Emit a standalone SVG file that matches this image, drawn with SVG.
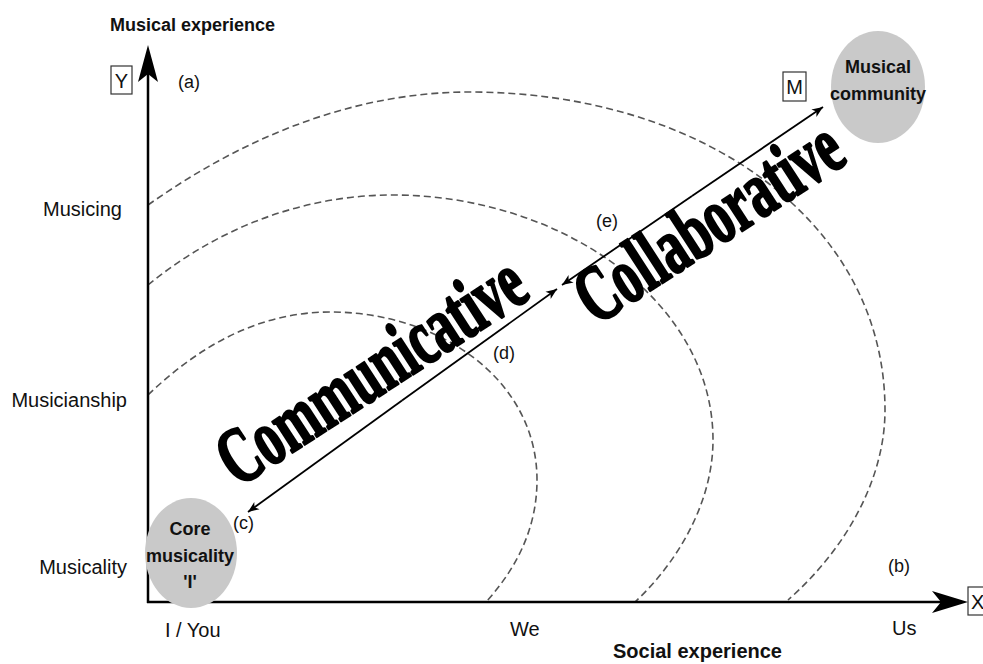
<svg xmlns="http://www.w3.org/2000/svg" width="983" height="664" viewBox="0 0 983 664">
  <defs>
    <marker id="tip" viewBox="-12 -6 13 12" refX="0" refY="0" markerWidth="13" markerHeight="12" markerUnits="userSpaceOnUse" orient="auto">
      <path d="M0,0 L-11,-4.5 L-8,0 L-11,4.5 Z" fill="#000"/>
    </marker>
    <style>
      .lbl { font-family: "Liberation Sans", Arial, sans-serif; font-size: 20px; fill: #111; }
      .tag { font-family: "Liberation Sans", Arial, sans-serif; font-size: 18px; fill: #111; }
      .bold { font-family: "Liberation Sans", Arial, sans-serif; font-size: 18px; font-weight: bold; fill: #111; }
      .big { font-family: "Liberation Serif", "Times New Roman", serif; font-size: 74px; font-weight: bold; fill: #000; stroke: #000; stroke-width: 2.4; stroke-linejoin: round; }
      .arc { fill: none; stroke: #555; stroke-width: 1.6; stroke-dasharray: 7 4; }
      .axis { stroke: #000; stroke-width: 2.5; fill: none; }
      .link { stroke: #000; stroke-width: 1.8; fill: none; marker-end: url(#tip); }
      .box { fill: #fff; stroke: #333; stroke-width: 1.2; }
      .blob { fill: #c9c9c9; }
    </style>
  </defs>
  <rect width="983" height="664" fill="#fff"/>

  <!-- concentric dashed zones -->
  <g id="zones">
    <path class="arc" d="M148,395 C200,345 260,312 330,312 C440,312 537,380 537,480 C537,530 515,570 486,602"/>
    <path class="arc" d="M148,285 C215,230 300,195 393,195 C560,195 713,300 713,440 C713,500 680,560 635,602"/>
    <path class="arc" d="M148,205 C240,140 350,92 470,92 C700,92 885,220 885,410 C885,480 845,550 788,600"/>
  </g>

  <!-- axes -->
  <g id="axes">
    <line class="axis" x1="148" y1="603" x2="148" y2="72"/>
    <path d="M148,45 L158,82 L148,74 L138,82 Z" fill="#000"/>
    <line class="axis" x1="147" y1="602" x2="945" y2="602"/>
    <path d="M968,602 L932,591 L941,602 L932,613 Z" fill="#000"/>
    <text class="bold" x="110" y="31">Musical experience</text>
    <text class="bold" x="613" y="658" style="font-size:20px">Social experience</text>
  </g>

  <g id="axis-y-tag">
    <rect class="box" x="111" y="66" width="21" height="28"/>
    <text class="lbl" x="121.5" y="88" text-anchor="middle">Y</text>
  </g>
  <g id="axis-x-tag">
    <rect class="box" x="968" y="587" width="22" height="28"/>
    <text class="lbl" x="971" y="609">X</text>
  </g>
  <g id="m-tag">
    <rect class="box" x="783" y="72" width="23" height="29"/>
    <text class="lbl" x="794.5" y="94" text-anchor="middle">M</text>
  </g>

  <!-- level labels -->
  <g id="levels">
    <text class="lbl" x="122" y="216" text-anchor="end">Musicing</text>
    <text class="lbl" x="127" y="407" text-anchor="end">Musicianship</text>
    <text class="lbl" x="127" y="574" text-anchor="end">Musicality</text>
    <text class="lbl" x="165" y="637">I / You</text>
    <text class="lbl" x="510" y="636">We</text>
    <text class="lbl" x="892" y="635">Us</text>
  </g>

  <!-- letter tags -->
  <g id="tags">
    <text class="tag" x="178" y="88">(a)</text>
    <text class="tag" x="888" y="572">(b)</text>
    <text class="tag" x="233" y="529">(c)</text>
    <text class="tag" x="493" y="359">(d)</text>
    <text class="tag" x="596" y="227">(e)</text>
  </g>

  <!-- end nodes -->
  <g id="core">
    <ellipse class="blob" cx="191" cy="553" rx="46" ry="55"/>
    <text class="bold" x="190" y="535" text-anchor="middle">Core</text>
    <text class="bold" x="190" y="562" text-anchor="middle">musicality</text>
    <text class="bold" x="190" y="588" text-anchor="middle">'I'</text>
  </g>
  <g id="community">
    <ellipse class="blob" cx="878" cy="87" rx="47" ry="56"/>
    <text class="bold" x="878" y="73" text-anchor="middle">Musical</text>
    <text class="bold" x="878" y="100" text-anchor="middle">community</text>
  </g>

  <!-- two-way growth arrows -->
  <g id="connectors">
    <path class="link" d="M402,400.5 L248,512"/>
    <path class="link" d="M402,400.5 L557,289"/>
    <path class="link" d="M692,196 L562,285"/>
    <path class="link" d="M692,196 L823,107"/>
  </g>

  <g id="phase-names">
    <text class="big" transform="translate(238,488) rotate(-33) scale(0.70,1.08)">Communicative</text>
    <text class="big" transform="translate(596,326) rotate(-33) scale(0.70,1.08)">Collaborative</text>
  </g>
</svg>
